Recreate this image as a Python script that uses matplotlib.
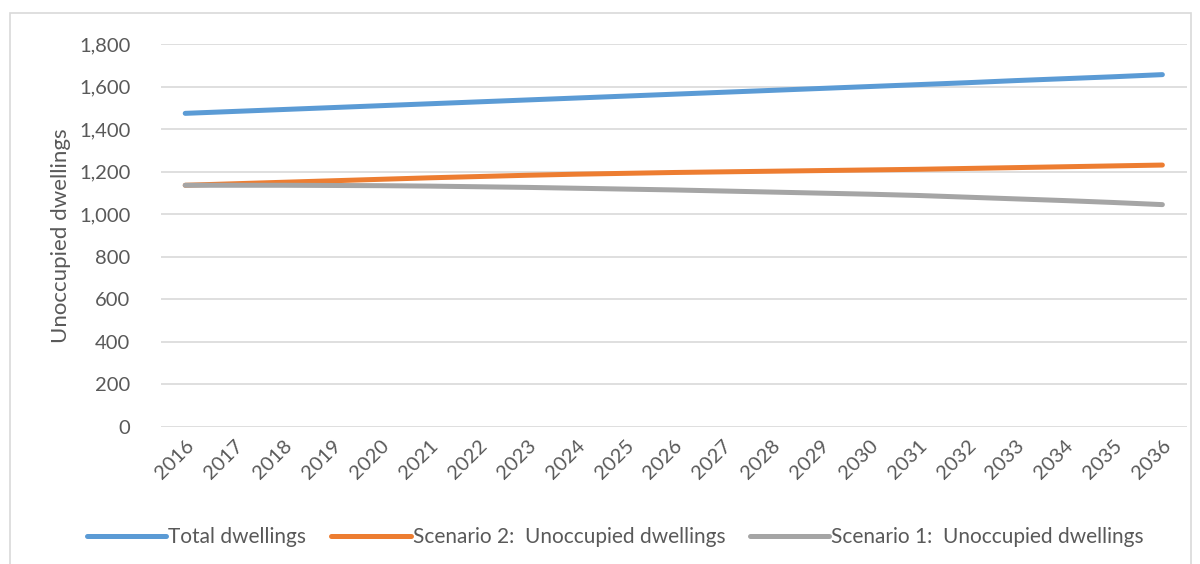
import matplotlib.pyplot as plt
from matplotlib.patches import Rectangle

years = [str(y) for y in range(2016, 2037)]
total_dwellings = [1474, 1483, 1492, 1501, 1510, 1519, 1528, 1537, 1546, 1555, 1564,
                   1573, 1582, 1591, 1600, 1609, 1618, 1628, 1637, 1646, 1656]
scenario2 = [1136, 1143, 1150, 1157, 1164, 1171, 1177, 1183, 1188, 1192, 1196,
             1199, 1202, 1205, 1208, 1211, 1215, 1219, 1223, 1227, 1231]
scenario1 = [1136, 1136, 1136, 1135, 1134, 1132, 1129, 1126, 1122, 1118, 1114,
             1109, 1104, 1099, 1094, 1088, 1080, 1072, 1064, 1055, 1045]
y_ticks = list(range(0, 1801, 200))

plt.rcParams['font.family'] = ['Lato', 'DejaVu Sans']
text_color = '#595959'

fig = plt.figure(figsize=(12, 5.64), dpi=100)
ax = fig.add_axes([0.134, 0.243, 0.855, 0.679])

x = list(range(len(years)))
ax.plot(x, total_dwellings, color='#5B9BD5', lw=3.6, solid_capstyle='round',
        label='Total dwellings')
ax.plot(x, scenario2, color='#ED7D31', lw=3.6, solid_capstyle='round',
        label='Scenario 2:  Unoccupied dwellings')
ax.plot(x, scenario1, color='#A5A5A5', lw=3.6, solid_capstyle='round',
        label='Scenario 1:  Unoccupied dwellings')

ax.set_xlim(-0.5, len(years) - 0.5)
ax.set_ylim(0, 1800)
ax.set_yticks(y_ticks)
ax.set_yticklabels([f'{v:,}' for v in y_ticks])
ax.set_xticks(x)
ax.set_xticklabels(years, rotation=45, ha='right', rotation_mode='anchor')
ax.tick_params(axis='both', length=0, colors=text_color, labelsize=14.5)
ax.tick_params(axis='y', pad=22)
ax.tick_params(axis='x', pad=7)
ax.grid(axis='y', color='#D9D9D9', lw=1.2)
ax.set_axisbelow(True)
for s in ax.spines.values():
    s.set_visible(False)

ax.set_ylabel('Unoccupied dwellings', fontsize=16, color=text_color, labelpad=6)

fig.legend(loc='center', bbox_to_anchor=(0.513, 0.048), ncol=3, frameon=False,
           fontsize=15, handlelength=3.8, handletextpad=0.1, columnspacing=1.2,
           labelcolor=text_color)

fig.patches.append(Rectangle((10 / 1200, -0.1), 1181 / 1200, 1 - 13 / 564 + 0.1,
                             transform=fig.transFigure, fill=False,
                             edgecolor='#D9D9D9', lw=1.2))

fig.savefig('out.png', dpi=100)
